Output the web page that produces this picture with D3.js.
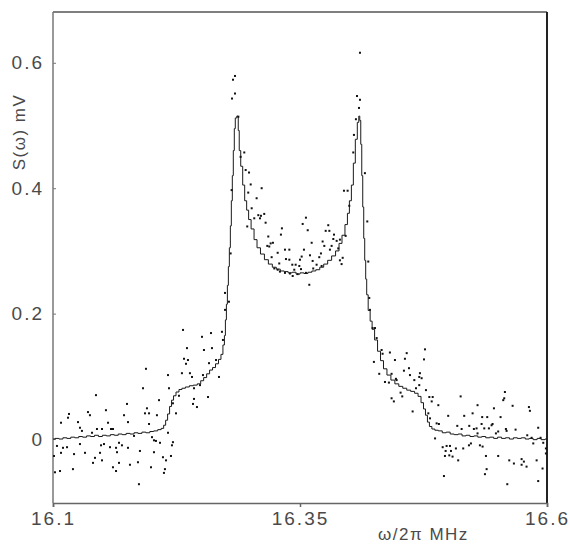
<!DOCTYPE html>
<html>
<head>
<meta charset="utf-8">
<script src="https://cdn.jsdelivr.net/npm/d3@7"></script>
<style>
  body { margin: 0; background: #fff; }
  .lbl { font-family: "Liberation Sans", Arial, sans-serif; fill: #4a4a4a; }
</style>
</head>
<body>
<div id="chart"></div>
<script>
// frequency ticks and axis labels
var xTicks = [16.1, 16.35, 16.6],
	yTicks = [0, 0.2, 0.4, 0.6];

// smooth (theory) curve
var lineFreq = [16.100,16.104,16.108,16.112,16.116,16.120,16.124,16.128,16.132,16.136,16.140,16.144,16.148,16.152,16.156,16.160,16.164,16.168,16.172,16.176,16.180,16.184,16.188,16.192,16.196,16.200,16.204,16.208,16.211,16.213,16.215,16.217,16.219,16.221,16.223,16.226,16.229,16.232,16.236,16.240,16.244,16.248,16.251,16.254,16.257,16.260,16.263,16.266,16.269,16.271,16.273,16.274,16.275,16.276,16.277,16.278,16.279,16.280,16.281,16.282,16.283,16.284,16.285,16.287,16.288,16.289,16.291,16.293,16.295,16.297,16.299,16.302,16.305,16.308,16.312,16.316,16.320,16.324,16.328,16.332,16.336,16.340,16.344,16.348,16.352,16.356,16.360,16.364,16.368,16.372,16.376,16.380,16.384,16.388,16.391,16.394,16.397,16.399,16.401,16.403,16.405,16.407,16.409,16.410,16.411,16.412,16.413,16.414,16.415,16.416,16.417,16.418,16.420,16.422,16.424,16.427,16.430,16.433,16.436,16.440,16.444,16.448,16.452,16.456,16.460,16.464,16.468,16.471,16.474,16.476,16.478,16.480,16.482,16.485,16.488,16.492,16.496,16.500,16.504,16.508,16.512,16.516,16.520,16.524,16.528,16.532,16.536,16.540,16.544,16.548,16.552,16.556,16.560,16.564,16.568,16.572,16.576,16.580,16.584,16.588,16.592,16.596,16.600];
var lineVal = [0.000,0.001,0.000,0.002,0.001,0.003,0.002,0.004,0.003,0.005,0.004,0.006,0.004,0.006,0.005,0.007,0.006,0.008,0.007,0.009,0.008,0.010,0.009,0.011,0.010,0.012,0.013,0.015,0.017,0.022,0.030,0.040,0.052,0.062,0.069,0.075,0.079,0.081,0.083,0.085,0.086,0.088,0.093,0.098,0.104,0.110,0.114,0.120,0.127,0.135,0.150,0.165,0.190,0.215,0.245,0.275,0.305,0.340,0.380,0.420,0.460,0.495,0.512,0.515,0.492,0.460,0.435,0.405,0.380,0.365,0.350,0.335,0.318,0.305,0.295,0.286,0.279,0.274,0.271,0.268,0.267,0.265,0.266,0.263,0.265,0.264,0.266,0.268,0.270,0.274,0.279,0.285,0.292,0.300,0.312,0.325,0.342,0.360,0.380,0.405,0.440,0.478,0.505,0.515,0.508,0.470,0.420,0.370,0.320,0.285,0.255,0.230,0.205,0.188,0.175,0.158,0.140,0.125,0.112,0.102,0.094,0.088,0.084,0.081,0.078,0.076,0.073,0.068,0.058,0.048,0.038,0.027,0.020,0.016,0.014,0.013,0.010,0.011,0.008,0.007,0.008,0.005,0.006,0.004,0.005,0.003,0.004,0.002,0.003,0.001,0.003,0.001,0.002,0.000,0.002,0.001,0.002,0.000,0.001,-0.001,0.001,-0.001,0.000];

// measured points, [frequency MHz, S mV]
var dotsLeft = [
	[16.2316,0.174],[16.2508,0.163],[16.2599,0.169],[16.2710,0.171],[16.2356,0.145],[16.2528,0.142],[16.2609,0.145],[16.2720,0.158],
	[16.2741,0.206],[16.2741,0.233],[16.2781,0.219],[16.2326,0.128],[16.2366,0.126],[16.2346,0.120],[16.2579,0.121],[16.2650,0.126],
	[16.1941,0.112],[16.2164,0.102],[16.2305,0.105],[16.2386,0.105],[16.2407,0.099],[16.2518,0.102],[16.2680,0.099],[16.1911,0.081],
	[16.2174,0.081],[16.2427,0.081],[16.2488,0.086],[16.1435,0.070],[16.2073,0.062],[16.2275,0.069],[16.2427,0.064],[16.2569,0.067],
	[16.2214,0.057],[16.2417,0.056],[16.2457,0.051],[16.1749,0.056],[16.1951,0.049],[16.1931,0.041],[16.1972,0.041],[16.1536,0.046],
	[16.1354,0.043],[16.1374,0.038],[16.1162,0.040],[16.1152,0.034],[16.2052,0.038],[16.2245,0.041],[16.1081,0.026],[16.1253,0.027],
	[16.1719,0.038],[16.1759,0.027],[16.1557,0.026],[16.1587,0.016],[16.1607,0.016],[16.1273,0.018],[16.1293,0.013],[16.1395,0.010],
	[16.1445,0.016],[16.1496,0.016],[16.1820,0.005],[16.1972,0.024],[16.2164,0.010],[16.2002,0.003],[16.1040,-0.011],[16.1101,-0.014],
	[16.1142,-0.013],[16.1273,-0.008],[16.1486,-0.010],[16.1516,-0.008],[16.1577,-0.013],[16.1638,-0.014],[16.1668,-0.006],[16.1698,-0.010],
	[16.1759,-0.014],[16.1081,-0.022],[16.1213,-0.024],[16.1324,-0.022],[16.1476,-0.022],[16.1648,-0.021],[16.1880,-0.019],[16.2022,-0.002],
	[16.2042,-0.003],[16.2083,-0.006],[16.2214,-0.005],[16.2204,-0.010],[16.2022,-0.021],[16.2113,-0.029],[16.2144,-0.034],[16.2194,-0.027],
	[16.1010,-0.027],[16.1405,-0.038],[16.1425,-0.030],[16.1496,-0.034],[16.1668,-0.038],[16.1779,-0.041],[16.1860,-0.037],[16.1992,-0.045],
	[16.1607,-0.045],[16.1638,-0.051],[16.2133,-0.048],[16.2123,-0.054],[16.1020,-0.053],[16.1071,-0.051],[16.1202,-0.048],[16.1870,-0.072],
	[16.2798,0.296],[16.2808,0.397]
];
var dotsCentre = [
	[16.2842,0.579],[16.2822,0.573],[16.2842,0.551],[16.2812,0.543],[16.2876,0.514],
	[16.4107,0.616],[16.4077,0.547],[16.4107,0.541],[16.4097,0.528],[16.4046,0.485],[16.4066,0.510],
	[16.2899,0.450],[16.2936,0.457],[16.2950,0.429],[16.2984,0.425],[16.3001,0.406],[16.3112,0.400],[16.2976,0.393],[16.3061,0.384],
	[16.3011,0.368],[16.3037,0.352],[16.3078,0.357],[16.3105,0.356],[16.3138,0.359],[16.3095,0.352],[16.3152,0.345],[16.2966,0.339],
	[16.3317,0.336],[16.3307,0.326],[16.3179,0.323],[16.3203,0.312],[16.3226,0.313],[16.3169,0.308],[16.3189,0.307],[16.3348,0.302],
	[16.3392,0.302],[16.3274,0.297],[16.3358,0.287],[16.3392,0.286],[16.3213,0.290],[16.3290,0.280],[16.3422,0.278],[16.3456,0.278],
	[16.3240,0.272],[16.3274,0.270],[16.3442,0.270],[16.3297,0.267],[16.3348,0.265],[16.3398,0.264],[16.3426,0.260],[16.3476,0.263],
	[16.4039,0.457],[16.4157,0.424],[16.3945,0.396],[16.3982,0.396],[16.3999,0.372],[16.3560,0.353],[16.3527,0.343],[16.3786,0.341],
	[16.3578,0.333],[16.3760,0.332],[16.3797,0.332],[16.3844,0.326],[16.3962,0.324],[16.3618,0.313],[16.3729,0.315],[16.3837,0.319],
	[16.3746,0.308],[16.3820,0.308],[16.3871,0.316],[16.3904,0.318],[16.3887,0.304],[16.3540,0.302],[16.3712,0.296],[16.3803,0.302],
	[16.3695,0.290],[16.3517,0.291],[16.3601,0.293],[16.3932,0.289],[16.3904,0.285],[16.3921,0.279],[16.3500,0.286],[16.3628,0.284],
	[16.3668,0.278],[16.3719,0.276],[16.3634,0.272],[16.3493,0.276],[16.3510,0.271],[16.3560,0.265],[16.3594,0.246],
	[16.4181,0.347],[16.4191,0.283],[16.4201,0.225]
];
var dotsRight = [
	[16.4208,0.206],[16.4235,0.177],[16.4259,0.177],[16.4276,0.161],[16.4248,0.123],[16.4326,0.142],[16.4336,0.136],[16.4302,0.104],
	[16.4360,0.091],[16.4410,0.138],[16.4461,0.126],[16.4400,0.090],[16.4427,0.104],[16.4471,0.096],[16.4478,0.094],[16.4518,0.074],
	[16.4535,0.068],[16.4427,0.065],[16.4450,0.060],[16.4562,0.128],[16.4580,0.137],[16.4603,0.113],[16.4552,0.109],[16.4613,0.102],
	[16.4657,0.094],[16.4707,0.099],[16.4755,0.127],[16.4765,0.143],[16.4714,0.105],[16.4731,0.097],[16.4674,0.081],[16.4707,0.086],
	[16.4640,0.044],[16.4775,0.078],[16.4809,0.067],[16.4843,0.067],[16.4833,0.060],[16.4900,0.054],[16.4799,0.041],[16.4816,0.033],
	[16.4867,0.001],[16.4883,0.025],[16.4906,0.024],[16.5000,0.037],[16.5126,0.068],[16.5162,0.037],[16.5092,0.021],[16.5136,0.016],
	[16.5213,0.021],[16.5247,0.041],[16.5260,0.016],[16.5287,0.017],[16.5297,0.054],[16.5297,0.009],[16.5344,0.035],[16.5395,0.035],
	[16.5338,0.024],[16.5365,0.017],[16.5439,0.022],[16.5449,0.024],[16.5412,0.017],[16.5463,0.049],[16.5530,0.035],[16.5483,0.009],
	[16.5506,0.012],[16.5557,0.062],[16.5567,0.065],[16.5574,0.075],[16.5584,0.016],[16.5591,0.013],[16.5652,0.053],[16.5682,0.015],
	[16.5800,0.006],[16.5817,0.051],[16.5827,0.045],[16.5844,0.002],[16.5911,0.018],[16.5962,-0.006],[16.5935,0.002],[16.5861,-0.007],
	[16.5989,-0.015],[16.4944,-0.013],[16.4984,-0.011],[16.5018,-0.011],[16.4974,-0.019],[16.5028,-0.019],[16.5011,-0.026],[16.4967,-0.027],
	[16.5078,-0.015],[16.5044,-0.028],[16.5101,-0.034],[16.5152,-0.015],[16.5210,-0.010],[16.5230,-0.007],[16.5321,-0.010],[16.5348,-0.012],
	[16.5382,-0.027],[16.5506,-0.027],[16.5389,-0.048],[16.5372,-0.056],[16.4957,-0.059],[16.5598,-0.072],[16.5618,-0.034],[16.5665,-0.039],
	[16.5743,-0.032],[16.5766,-0.036],[16.5793,-0.044],[16.5743,-0.041],[16.5895,-0.034],[16.5955,-0.047],[16.5911,-0.067],[16.5989,-0.023]
];

var width = 570, height = 546,
	margin = { top: 12, right: 23, bottom: 43, left: 53 },
	w = width - margin.left - margin.right,
	h = height - margin.top - margin.bottom;

var svg = d3.select('#chart').append('svg')
	.attr('width', width)
	.attr('height', height);

var g = svg.append('g')
	.attr('transform', 'translate(' + margin.left + ',' + margin.top + ')');

var x = d3.scaleLinear().domain([16.1, 16.6]).range([0, w]);
var y = d3.scaleLinear().domain([-0.102, 0.681]).range([h, 0]);

// frame
g.append('line').attr('x1', 0).attr('x2', w).attr('y1', 0).attr('y2', 0)
	.style('stroke', '#555').style('stroke-width', 1.5);
g.append('line').attr('x1', w).attr('x2', w).attr('y1', 0).attr('y2', h)
	.style('stroke', '#222').style('stroke-width', 2);
g.append('line').attr('x1', 0).attr('x2', 0).attr('y1', 0).attr('y2', h)
	.style('stroke', '#777').style('stroke-width', 1.5);

var tickFont = function(sel) {
	sel.attr('class', 'lbl')
		.style('font-size', '19px')
		.style('letter-spacing', '2px')
		.style('font-family', '"Liberation Sans", Arial, sans-serif')
		.style('fill', '#4a4a4a');
};

// axes
var xAxis = g.append('g')
	.attr('transform', 'translate(0,' + h + ')')
	.call(d3.axisBottom(x).tickValues(xTicks).tickSize(4).tickPadding(5)
		.tickFormat(function(d) { return String(d); }));
xAxis.select('.domain').style('stroke', '#666').style('stroke-width', 1.5);
xAxis.selectAll('line').style('stroke', '#666').style('stroke-width', 1.5);
xAxis.selectAll('text').call(tickFont);

var yAxis = g.append('g')
	.call(d3.axisLeft(y).tickValues(yTicks).tickSize(-3).tickPadding(9)
		.tickFormat(function(d) { return d === 0 ? '0' : d3.format('.1f')(d); }));
yAxis.select('.domain').remove();
yAxis.selectAll('line').style('stroke', '#777');
yAxis.selectAll('text').call(tickFont);

// theory curve
var curve = lineFreq.map(function(f, i) { return [f, lineVal[i]]; });
g.append('path')
	.datum(curve)
	.attr('d', d3.line()
		.x(function(d) { return x(d[0]); })
		.y(function(d) { return y(d[1]); })
		.curve(d3.curveStep))
	.style('fill', 'none')
	.style('stroke', '#1a1a1a')
	.style('stroke-width', 1);

// data points
var dots = dotsLeft.concat(dotsCentre, dotsRight);
g.selectAll('.pt')
	.data(dots)
	.enter().append('rect')
	.attr('class', 'pt')
	.attr('x', function(d) { return x(d[0]) - 1; })
	.attr('y', function(d) { return y(d[1]) - 1; })
	.attr('width', 2)
	.attr('height', 2)
	.style('fill', '#111');

// axis titles
svg.append('text')
	.attr('class', 'lbl')
	.attr('x', 378)
	.attr('y', 540)
	.style('font-size', '17px')
	.style('letter-spacing', '1.5px')
	.text('ω/2π MHz');

svg.append('text')
	.attr('class', 'lbl')
	.attr('transform', 'translate(25,132) rotate(-90)')
	.style('text-anchor', 'middle')
	.style('font-size', '17px')
	.style('letter-spacing', '1.5px')
	.text('S(ω) mV');
</script>
</body>
</html>
